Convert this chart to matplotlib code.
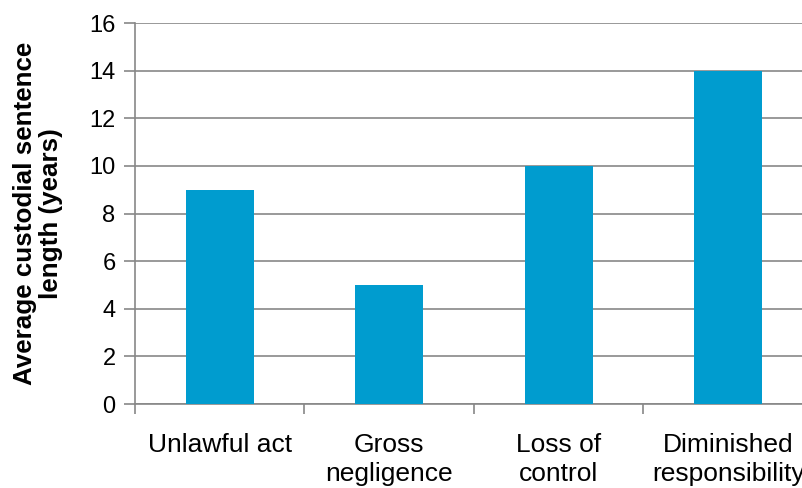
import numpy as np
import matplotlib
matplotlib.use("Agg")
import matplotlib.pyplot as plt

categories = ["Unlawful act", "Gross\nnegligence", "Loss of\ncontrol", "Diminished\nresponsibility"]
values = [9, 5, 10, 14]
y_ticks = [0, 2, 4, 6, 8, 10, 12, 14, 16]

plt.rcParams["font.family"] = ["Liberation Sans", "DejaVu Sans"]

grey = "#878787"
fig = plt.figure(figsize=(8.03, 4.88), dpi=100)
ax = fig.add_axes([0.1681, 0.1721, 0.8443, 0.7807])

x = np.arange(len(categories))
ax.bar(x, values, width=0.4, color="#009CCF", zorder=3)

ax.set_xlim(-0.5, len(categories) - 0.5)
ax.set_ylim(0, 16)
ax.set_yticks(y_ticks)
ax.set_yticklabels([str(t) for t in y_ticks], fontsize=17)
ax.yaxis.grid(True, color=grey, linewidth=1.2, zorder=0)

# category boundaries get the tick marks, names sit in between
ax.set_xticks(np.arange(-0.5, len(categories)), minor=False)
ax.set_xticklabels([])
ax.set_xticks(x, minor=True)
ax.set_xticklabels(categories, minor=True, fontsize=19, linespacing=1.25)
ax.tick_params(axis="x", which="minor", length=0, pad=21)
ax.tick_params(axis="x", which="major", length=7, width=1.2, color=grey)
ax.tick_params(axis="y", length=8, width=1.2, color=grey, pad=6)

for side in ["top", "right"]:
    ax.spines[side].set_visible(False)
for side in ["left", "bottom"]:
    ax.spines[side].set_color(grey)
    ax.spines[side].set_linewidth(1.2)

ax.set_ylabel("Average custodial sentence\nlength (years)", fontsize=18.7,
              fontweight="bold", linespacing=1.1)
ax.yaxis.set_label_coords(-0.106, 0.5)

fig.savefig("out.png", dpi=100)
